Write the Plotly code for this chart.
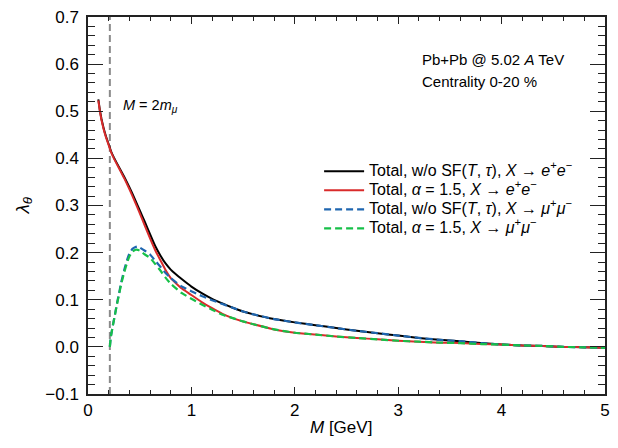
import plotly.graph_objects as go

# ---------------- data ----------------
M_ee = [0.10, 0.115, 0.13, 0.15, 0.175, 0.20, 0.225, 0.25, 0.30, 0.35, 0.40, 0.45,
        0.50, 0.55, 0.60, 0.65, 0.70, 0.75, 0.80, 0.85, 0.90, 1.0, 1.1, 1.2, 1.3,
        1.4, 1.5, 1.6, 1.8, 2.0, 2.2, 2.4, 2.6, 2.8, 3.0, 3.2, 3.4, 3.6, 3.8, 4.0,
        4.2, 4.4, 4.6, 4.8, 5.0]
lam_ee_noSF = [0.525, 0.502, 0.484, 0.465, 0.446, 0.430, 0.414, 0.402, 0.381, 0.361,
               0.339, 0.315, 0.290, 0.265, 0.239, 0.214, 0.194, 0.177, 0.164, 0.154,
               0.145, 0.128, 0.114, 0.102, 0.092, 0.083, 0.075, 0.069, 0.059, 0.052,
               0.046, 0.040, 0.034, 0.029, 0.024, 0.019, 0.015, 0.012, 0.008, 0.005,
               0.003, 0.002, 0.000, -0.001, -0.002]
lam_ee_alpha = [0.523, 0.500, 0.482, 0.463, 0.444, 0.428, 0.412, 0.400, 0.379, 0.358,
                0.335, 0.310, 0.284, 0.257, 0.230, 0.205, 0.184, 0.163, 0.146, 0.135,
                0.125, 0.110, 0.095, 0.082, 0.070, 0.061, 0.054, 0.048, 0.037, 0.030,
                0.026, 0.022, 0.019, 0.016, 0.013, 0.011, 0.009, 0.008, 0.006, 0.005,
                0.003, 0.002, 0.000, -0.001, -0.002]

M_mumu = [0.2113, 0.22, 0.24, 0.26, 0.28, 0.30, 0.32, 0.35, 0.38, 0.40, 0.43, 0.46,
          0.48, 0.50, 0.55, 0.60, 0.65, 0.70, 0.75, 0.80, 0.90, 1.0, 1.1, 1.2, 1.3,
          1.4, 1.5, 1.6, 1.8, 2.0, 2.2, 2.4, 2.6, 2.8, 3.0, 3.2, 3.4, 3.6, 3.8, 4.0,
          4.2, 4.4, 4.6, 4.8, 5.0]
lam_mumu_noSF = [0.000, 0.020, 0.045, 0.068, 0.092, 0.113, 0.136, 0.163, 0.186, 0.198,
                 0.208, 0.212, 0.213, 0.211, 0.204, 0.196, 0.183, 0.170, 0.157, 0.146,
                 0.129, 0.118, 0.108, 0.099, 0.091, 0.083, 0.075, 0.069, 0.059, 0.052,
                 0.046, 0.040, 0.034, 0.029, 0.024, 0.019, 0.015, 0.012, 0.008, 0.005,
                 0.003, 0.002, 0.000, -0.001, -0.002]
lam_mumu_alpha = [0.000, 0.020, 0.045, 0.067, 0.090, 0.111, 0.132, 0.158, 0.180, 0.192,
                  0.202, 0.206, 0.206, 0.204, 0.196, 0.189, 0.176, 0.162, 0.147, 0.134,
                  0.115, 0.102, 0.090, 0.079, 0.068, 0.061, 0.054, 0.048, 0.037, 0.030,
                  0.026, 0.022, 0.019, 0.016, 0.013, 0.011, 0.009, 0.008, 0.006, 0.005,
                  0.003, 0.002, 0.000, -0.001, -0.002]

M_threshold = [0.2113, 0.2113]
lam_threshold = [-0.1, 0.7]

legend_names = [
    "Total, w/o SF(<i>T</i>, <i>τ</i>), <i>X</i> → <i>e</i><sup>+</sup><i>e</i><sup>−</sup>",
    "Total, <i>α</i> = 1.5, <i>X</i> → <i>e</i><sup>+</sup><i>e</i><sup>−</sup>",
    "Total, w/o SF(<i>T</i>, <i>τ</i>), <i>X</i> → <i>μ</i><sup>+</sup><i>μ</i><sup>−</sup>",
    "Total, <i>α</i> = 1.5, <i>X</i> → <i>μ</i><sup>+</sup><i>μ</i><sup>−</sup>",
]

FONT = "Liberation Sans, Arial, Helvetica, sans-serif"


def big(s):
    return '<span style="font-size:16px">' + s + "</span>"


fig = go.Figure()
fig.add_trace(go.Scatter(x=M_threshold, y=lam_threshold, mode="lines",
                         line=dict(color="#8a8a8a", width=2, dash="7px,4px"),
                         showlegend=False, hoverinfo="skip"))
fig.add_trace(go.Scatter(x=M_ee, y=lam_ee_noSF, mode="lines", name=big(legend_names[0]),
                         line=dict(color="#000000", width=2, shape="spline", smoothing=0.3)))
fig.add_trace(go.Scatter(x=M_ee, y=lam_ee_alpha, mode="lines", name=big(legend_names[1]),
                         line=dict(color="#d92b2b", width=2, shape="spline", smoothing=0.3)))
fig.add_trace(go.Scatter(x=M_mumu, y=lam_mumu_noSF, mode="lines", name=big(legend_names[2]),
                         line=dict(color="#1f66b0", width=2.2, dash="7px,4px",
                                   shape="spline", smoothing=0.3)))
fig.add_trace(go.Scatter(x=M_mumu, y=lam_mumu_alpha, mode="lines", name=big(legend_names[3]),
                         line=dict(color="#16c048", width=2.2, dash="7px,4px",
                                   shape="spline", smoothing=0.3)))

fig.update_layout(
    width=618, height=448,
    margin=dict(l=88, r=13, t=17, b=54, autoexpand=False),
    paper_bgcolor="white", plot_bgcolor="white",
    font=dict(family=FONT, color="black", size=14),
    legend=dict(x=0.447, y=0.629, xanchor="left", yanchor="top",
                bgcolor="rgba(0,0,0,0)", font=dict(size=11, family=FONT),
                tracegroupgap=0, itemwidth=40),
    showlegend=True,
)
fig.update_xaxes(range=[0, 5], dtick=1, tick0=0, ticks="inside", ticklen=7,
                 tickwidth=1, tickcolor="#222", showline=True, linecolor="#222",
                 linewidth=1.5, mirror="allticks", showgrid=False, zeroline=False,
                 automargin=False,
                 tickfont=dict(size=17, family=FONT),
                 minor=dict(dtick=0.2, ticks="inside", ticklen=4, tickcolor="#222",
                            tickwidth=1, showgrid=False))
fig.update_yaxes(range=[-0.1, 0.7], dtick=0.1, tick0=0, tickformat=".1f",
                 ticks="inside", ticklen=15, tickwidth=1, tickcolor="#222",
                 showline=True, linecolor="#222", linewidth=1.5, mirror="allticks",
                 showgrid=False, zeroline=False, ticklabelstandoff=4, automargin=False,
                 tickfont=dict(size=17, family=FONT),
                 minor=dict(dtick=0.02, ticks="inside", ticklen=7, tickcolor="#222",
                            tickwidth=1, showgrid=False))

fig.add_annotation(text="Pb+Pb @ 5.02 <i>A</i> TeV", x=3.208, y=0.610, xref="x", yref="y",
                   xanchor="left", yanchor="middle", showarrow=False,
                   font=dict(size=15, family=FONT))
fig.add_annotation(text="Centrality 0-20 %", x=3.208, y=0.564, xref="x", yref="y",
                   xanchor="left", yanchor="middle", showarrow=False,
                   font=dict(size=15, family=FONT))
fig.add_annotation(text="<i>M</i> = 2<i>m</i><sub><i>μ</i></sub>", x=0.316, y=0.512,
                   xref="x", yref="y", xanchor="left", yanchor="middle", showarrow=False,
                   font=dict(size=14.5, family=FONT))
fig.add_annotation(text="<i>λ</i><sub><i>θ</i></sub>", x=0, y=0.5, xref="paper", yref="paper",
                   xshift=-65, textangle=-90, xanchor="center", yanchor="middle",
                   showarrow=False, font=dict(size=19, family=FONT))
fig.add_annotation(text="<i>M</i> [GeV]", x=0.49, y=0, xref="paper", yref="paper",
                   yshift=-33, xanchor="center", yanchor="middle", showarrow=False,
                   font=dict(size=17, family=FONT))

fig.write_html("out.html", config={"displayModeBar": False},
               post_script="document.body.style.margin='0px';"
                           "document.body.style.overflow='hidden';")
